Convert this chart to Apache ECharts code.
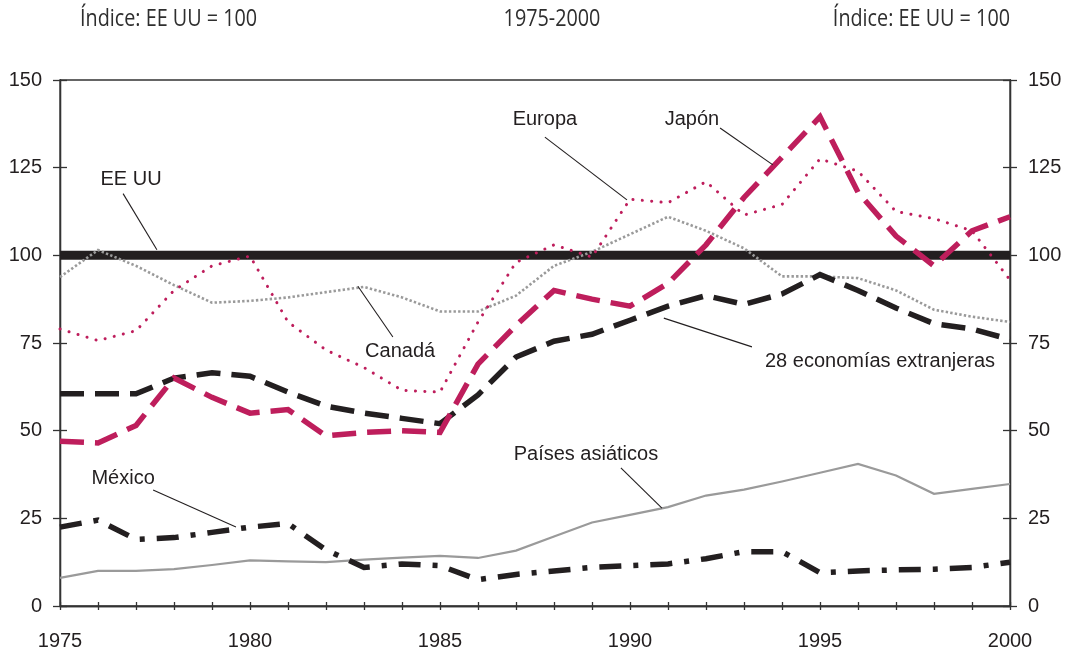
<!DOCTYPE html>
<html>
<head>
<meta charset="utf-8">
<title>Índice: EE UU = 100, 1975-2000</title>
<script src="https://cdn.jsdelivr.net/npm/echarts@6/dist/echarts.min.js"></script>
<style>
  html, body { margin: 0; padding: 0; background: #fff; }
  #main { width: 1072px; height: 656px; }
</style>
</head>
<body>
<div id="main"></div>
<script>
// datos (índice, EE UU = 100)
var years = [1975, 1976, 1977, 1978, 1979, 1980, 1981, 1982, 1983, 1984, 1985, 1986, 1987,
  1988, 1989, 1990, 1991, 1992, 1993, 1994, 1995, 1996, 1997, 1998, 1999, 2000];
var eeuu = [100, 100, 100, 100, 100, 100, 100, 100, 100, 100, 100, 100, 100,
  100, 100, 100, 100, 100, 100, 100, 100, 100, 100, 100, 100, 100];
var canada = [93.8, 101.5, 97, 91.5, 86.5, 87, 88, 89.5, 91, 88, 84, 84, 88.5,
  97, 101, 106, 111, 107, 102, 94, 94, 93.5, 90, 84.5, 82.5, 81];
var europa = [79, 75.7, 78.5, 90, 97, 99.8, 81, 73, 68, 61.5, 61, 81, 98,
  103, 99.5, 116, 115, 121, 111.5, 114.5, 127.5, 124, 112.5, 110.5, 107, 93];
var japon = [47, 46.5, 51.5, 65, 59.5, 55, 56, 48.5, 49.5, 50, 49.5, 69, 80,
  90, 87.5, 85.5, 92, 103, 116.5, 128, 139.5, 118, 105.5, 97, 107, 111];
var economias28 = [60.5, 60.5, 60.5, 65, 66.5, 65.5, 61, 57, 55, 53.5, 52, 60.2, 71,
  75.5, 77.5, 81.5, 85.5, 88.5, 86, 89, 94.5, 90, 85, 80.5, 79, 76];
var mexico = [22.5, 24.5, 19, 19.5, 21, 22.5, 23.5, 16, 11, 12, 11.5, 7.5, 9,
  10, 11, 11.5, 12, 13.5, 15.5, 15.5, 9.5, 10, 10.3, 10.5, 11, 12.5];
var asiaticos = [8, 10, 10, 10.5, 11.7, 13, 12.7, 12.5, 13.2, 13.8, 14.3, 13.7, 15.8,
  19.8, 23.8, 26, 28.2, 31.5, 33.2, 35.5, 38, 40.5, 37.2, 32, 33.4, 34.8];
var yTicks = [0, 25, 50, 75, 100, 125, 150];

var ink = '#231f20';
var rojo = '#be1e5c';
var gris = '#9a9a9a';
var fuente = 'Liberation Sans, Arial, sans-serif';

function pares(vals) {
  return years.map(function (y, i) { return [y, vals[i]]; });
}

function serie(name, vals, color, width, type, cap) {
  return {
    name: name,
    type: 'line',
    data: pares(vals),
    symbol: 'none',
    silent: true,
    lineStyle: { color: color, width: width, type: type, cap: cap || 'butt', join: 'miter' }
  };
}

// rótulos con línea guía, en coordenadas de los datos
var rotulos = [
  { text: 'EE UU', at: [1976.87, 121.5], from: [1976.66, 117.6], to: [1977.55, 101.6] },
  { text: 'Europa', at: [1987.76, 138.6], from: [1987.76, 133.7], to: [1989.92, 115.8] },
  { text: 'Japón', at: [1991.63, 138.6], from: [1992.37, 136.3], to: [1993.76, 125.8] },
  { text: 'Canadá', at: [1983.95, 72.7], from: [1982.84, 91.2], to: [1983.76, 76.7] },
  { text: '28 economías extranjeras', at: [1996.58, 69.6], from: [1990.89, 82.1], to: [1993.21, 73.9] },
  { text: 'Países asiáticos', at: [1988.84, 43.1], from: [1989.76, 39.4], to: [1990.84, 27.9] },
  { text: 'México', at: [1976.66, 36.5], from: [1977.45, 33.1], to: [1979.63, 22.5] }
];

var chart = echarts.init(document.getElementById('main'), null, { renderer: 'canvas' });

function ejeY(pos, inside) {
  return {
    type: 'value',
    position: pos,
    min: 0,
    max: 150,
    interval: 25,
    axisLine: { show: true, lineStyle: { color: '#333', width: 1.3 } },
    axisTick: { show: true, inside: inside, length: 7, lineStyle: { color: '#333', width: 1.3 } },
    axisLabel: {
      show: !inside,
      margin: 18,
      color: ink,
      fontSize: 20,
      fontFamily: fuente,
      formatter: function (v) { return yTicks.indexOf(v) >= 0 ? String(v) : ''; }
    },
    splitLine: { show: false }
  };
}

function ejeX(inside) {
  return {
    type: 'value',
    position: 'bottom',
    min: 1975,
    max: 2000,
    interval: 1,
    axisLine: { show: true, lineStyle: { color: '#333', width: 1.3 } },
    axisTick: { show: true, inside: inside, length: 4, lineStyle: { color: '#333', width: 1.3 } },
    axisLabel: {
      show: !inside,
      margin: 25,
      color: ink,
      fontSize: 20,
      fontFamily: fuente,
      formatter: function (v) { return v % 5 === 0 ? String(v) : ''; }
    },
    splitLine: { show: false }
  };
}

var option = {
  backgroundColor: '#ffffff',
  animation: false,
  grid: { left: 60, right: 62, top: 80, bottom: 50, show: true, borderColor: '#333', borderWidth: 1.3 },
  xAxis: [ejeX(false), ejeX(true)],
  yAxis: [ejeY('left', false), ejeY('left', true), ejeY('right', false), ejeY('right', true)],
  series: [
    serie('EE UU', eeuu, ink, 9, 'solid'),
    serie('Países asiáticos', asiaticos, gris, 2.2, 'solid'),
    serie('Canadá', canada, gris, 2.6, [2.4, 2.2]),
    serie('Europa', europa, rojo, 3, [0.1, 9.3], 'round'),
    serie('28 economías extranjeras', economias28, ink, 5.5, [24, 11]),
    serie('Japón', japon, rojo, 5.5, [24, 11]),
    serie('México', mexico, ink, 5.5, [22, 12, 5, 12])
  ]
};
chart.setOption(option);

// títulos (letra estrecha) y rótulos
function titulo(text, x, align) {
  return {
    type: 'text', x: x, y: 19, scaleX: 0.86, silent: true,
    style: { text: text, font: '23px "Open Sans"', fill: '#2e2e2e', textAlign: align, textVerticalAlign: 'middle' }
  };
}
var graficos = [
  titulo('Índice: EE UU = 100', 80, 'left'),
  titulo('1975-2000', 552, 'center'),
  titulo('Índice: EE UU = 100', 1010, 'right')
];
rotulos.forEach(function (r) {
  var p = chart.convertToPixel({ gridIndex: 0 }, r.at);
  var a = chart.convertToPixel({ gridIndex: 0 }, r.from);
  var b = chart.convertToPixel({ gridIndex: 0 }, r.to);
  graficos.push({
    type: 'line', z: 100, silent: true,
    shape: { x1: a[0], y1: a[1], x2: b[0], y2: b[1] },
    style: { stroke: ink, lineWidth: 1.1 }
  });
  graficos.push({
    type: 'text', z: 100, silent: true, x: p[0], y: p[1],
    style: { text: r.text, font: '20px ' + fuente, fill: ink, textAlign: 'center', textVerticalAlign: 'middle' }
  });
});
chart.setOption({ graphic: graficos });
</script>
</body>
</html>
